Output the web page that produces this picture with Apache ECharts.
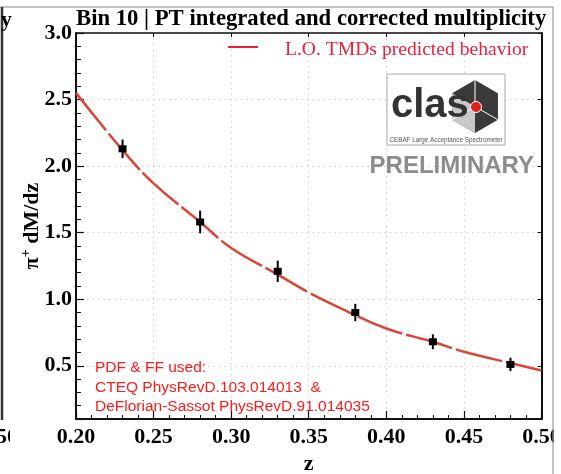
<!DOCTYPE html>
<html><head><meta charset="utf-8">
<script src="https://cdn.jsdelivr.net/npm/echarts@6/dist/echarts.min.js"></script>
<style>html,body{margin:0;padding:0;background:#fff}#c{width:561px;height:474px}</style>
</head><body><div id="c"></div>
<script>
const titleText = 'Bin 10 | PT integrated and corrected multiplicity';
const legendText = 'L.O. TMDs predicted behavior';
const noteLines = ['PDF & FF used:', 'CTEQ PhysRevD.103.014013  &', 'DeFlorian-Sassot PhysRevD.91.014035'];
const zPoints = [0.23, 0.28, 0.33, 0.38, 0.43, 0.48];
const multValues = [2.13, 1.58, 1.21, 0.90, 0.68, 0.51];
const multErrors = [0.07, 0.085, 0.08, 0.065, 0.056, 0.05];
const curveZ = [0.20, 0.23, 0.25, 0.28, 0.30, 0.33, 0.35, 0.37, 0.40, 0.43, 0.45, 0.48, 0.50];
const curveValues = [2.55, 2.12, 1.87, 1.58, 1.385, 1.185, 1.05, 0.935, 0.78, 0.68, 0.605, 0.52, 0.465];
const xTickLabels = ['0.20', '0.25', '0.30', '0.35', '0.40', '0.45', '0.50'];
const yTickLabels = ['0.5', '1.0', '1.5', '2.0', '2.5', '3.0'];

const SERIF = 'Liberation Serif';
const SANS = 'Liberation Sans';
const axisColor = '#111';

const chart = echarts.init(document.getElementById('c'), null, {renderer: 'canvas'});

const commonX = {
  type: 'value', min: 0.2, max: 0.5, interval: 0.05
};
const commonY = {
  type: 'value', min: 0.1, max: 3.0, minInterval: 0.5, maxInterval: 0.5, splitNumber: 6
};

const hexCx = 475, hexCy = 106.5, hexR = 26.5;
function hexPts() {
  const p = [];
  for (let i = 0; i < 6; i++) {
    const a = (-90 + 60 * i) * Math.PI / 180;
    p.push([hexCx + hexR * Math.cos(a), hexCy + hexR * Math.sin(a)]);
  }
  return p;
}
const hp = hexPts();

const option = {
  backgroundColor: '#fff',
  animation: false,
  title: {
    text: titleText, left: 76, top: 8, padding: 0,
    textStyle: {fontFamily: SERIF, fontWeight: 'bold', fontSize: 22.7, color: '#000'}
  },
  grid: {left: 76, right: 19.5, top: 33, bottom: 55, containLabel: false, outerBoundsMode: 'none'},
  xAxis: [
    Object.assign({}, commonX, {
      position: 'bottom',
      name: 'z', nameLocation: 'middle', nameGap: 30,
      nameTextStyle: {fontFamily: SERIF, fontWeight: 'bold', fontSize: 22, color: '#000'},
      axisLine: {show: true, lineStyle: {color: axisColor, width: 2}},
      axisTick: {show: true, inside: true, length: 8, lineStyle: {color: axisColor, width: 1.2}},
      minorTick: {show: true, splitNumber: 5, length: 4, lineStyle: {color: axisColor, width: 1}},
      axisLabel: {
        margin: 7, fontFamily: SERIF, fontWeight: 'bold', fontSize: 22, color: '#000',
        formatter: v => { const s = v.toFixed(2); return xTickLabels.includes(s) ? s : ''; }
      },
      splitLine: {show: true, lineStyle: {color: '#cfcfcf', width: 1, type: [1.5, 4]}}
    }),
    Object.assign({}, commonX, {
      position: 'top',
      axisLine: {show: true, lineStyle: {color: axisColor, width: 1.5}},
      axisTick: {show: true, inside: true, length: 4, lineStyle: {color: axisColor, width: 1}},
      axisLabel: {show: false},
      splitLine: {show: false}
    })
  ],
  yAxis: [
    Object.assign({}, commonY, {
      position: 'left',
      name: '{a|π}{s|+}{a| dM/dz}', nameLocation: 'middle', nameGap: 31, nameRotate: 90,
      nameMoveOverlap: false,
      nameTextStyle: {
        rich: {
          a: {fontFamily: SERIF, fontWeight: 'bold', fontSize: 22, color: '#000', lineHeight: 26},
          s: {fontFamily: SERIF, fontWeight: 'bold', fontSize: 14, color: '#000', lineHeight: 26, verticalAlign: 'top'}
        }
      },
      axisLine: {show: true, lineStyle: {color: axisColor, width: 2}},
      axisTick: {show: true, inside: true, length: 8, lineStyle: {color: axisColor, width: 1.2}},
      minorTick: {show: true, splitNumber: 5, length: 5, lineStyle: {color: axisColor, width: 1}},
      axisLabel: {
        margin: 4, fontFamily: SERIF, fontWeight: 'bold', fontSize: 22, color: '#000',
        formatter: v => {
          if (Math.abs(v * 2 - Math.round(v * 2)) > 1e-6) return '';
          const s = v.toFixed(1); return yTickLabels.includes(s) ? s : '';
        }
      },
      splitLine: {show: true, lineStyle: {color: '#cfcfcf', width: 1, type: [1.5, 4]}}
    }),
    Object.assign({}, commonY, {
      position: 'right',
      axisLine: {show: true, lineStyle: {color: axisColor, width: 2}},
      axisTick: {show: true, inside: true, length: 4, lineStyle: {color: axisColor, width: 1}},
      axisLabel: {show: false},
      splitLine: {show: false}
    })
  ],
  series: [
    {
      type: 'line', xAxisIndex: 0, yAxisIndex: 0,
      data: curveZ.map((z, i) => [z, curveValues[i]]),
      smooth: 0.4, showSymbol: false, z: 2,
      lineStyle: {color: '#dc4535', width: 2.5, type: [48, 4]}
    },
    {
      type: 'custom', xAxisIndex: 0, yAxisIndex: 0, z: 3,
      data: zPoints.map((z, i) => [z, multValues[i], multErrors[i]]),
      renderItem: (params, api) => {
        const x = api.value(0), y = api.value(1), e = api.value(2);
        const c = api.coord([x, y]);
        const t = api.coord([x, y + e]);
        const b = api.coord([x, y - e]);
        return {
          type: 'group', children: [
            {type: 'line', shape: {x1: c[0], y1: t[1], x2: c[0], y2: b[1]}, style: {stroke: '#000', lineWidth: 2}},
            {type: 'rect', shape: {x: c[0] - 4, y: c[1] - 3.5, width: 8, height: 7}, style: {fill: '#000'}}
          ]
        };
      }
    }
  ],
  graphic: [
    // legend
    {type: 'line', shape: {x1: 228, y1: 47, x2: 258, y2: 47}, style: {stroke: '#e8203a', lineWidth: 2}, z: 10},
    {type: 'text', x: 285, y: 50, style: {text: legendText, fontFamily: SERIF, fontSize: 19.6, fill: '#e8203a', verticalAlign: 'middle', align: 'left'}, z: 10},
    // logo box
    {type: 'rect', shape: {x: 387, y: 74, width: 118, height: 71}, style: {fill: '#fff', stroke: '#aaa', lineWidth: 1}, z: 10},
    {type: 'polygon', shape: {points: hp}, style: {fill: '#3a3a3a'}, z: 11},
    {type: 'polygon', shape: {points: [[hexCx, hexCy], hp[3], hp[4], hp[5]]}, style: {fill: '#c9c9c9'}, z: 11},
    {type: 'line', shape: {x1: hexCx, y1: hexCy, x2: hp[0][0], y2: hp[0][1]}, style: {stroke: '#fff', lineWidth: 1}, z: 12},
    {type: 'line', shape: {x1: hexCx, y1: hexCy, x2: hp[2][0], y2: hp[2][1]}, style: {stroke: '#fff', lineWidth: 1}, z: 12},
    {type: 'line', shape: {x1: hexCx, y1: hexCy, x2: hp[4][0], y2: hp[4][1]}, style: {stroke: '#fff', lineWidth: 1}, z: 12},
    {type: 'text', x: 391, y: 126, style: {text: 'clas', fontFamily: SANS, fontWeight: 'bold', fontSize: 40, fill: '#333', verticalAlign: 'bottom', align: 'left'}, z: 13},
    {type: 'circle', shape: {cx: 476, cy: 107, r: 5.5}, style: {fill: '#e02020', stroke: '#fff', lineWidth: 1}, z: 14},
    {type: 'text', x: 446, y: 140, style: {text: 'CEBAF Large Acceptance Spectrometer', fontFamily: SANS, fontSize: 6.3, fill: '#555', verticalAlign: 'middle', align: 'center'}, z: 13},
    {type: 'text', x: 534, y: 166, style: {text: 'PRELIMINARY', fontFamily: SANS, fontWeight: 'bold', fontSize: 24, fill: '#8c8c8c', verticalAlign: 'middle', align: 'right'}, z: 10},
    // note
    {type: 'text', x: 95, y: 358, style: {text: noteLines.join('\n'), fontFamily: SANS, fontSize: 15.5, lineHeight: 19.5, fill: '#ff1a1a', verticalAlign: 'top', align: 'left'}, z: 10},
    // neighbouring panel remnants and frame
    {type: 'line', shape: {x1: 0, y1: 7, x2: 553, y2: 7}, style: {stroke: '#888', lineWidth: 1.2}, z: 20},
    {type: 'line', shape: {x1: 2, y1: 7, x2: 2, y2: 420}, style: {stroke: '#333', lineWidth: 2.5}, z: 20},
    {type: 'text', x: 1, y: 20, style: {text: 'y', fontFamily: SERIF, fontWeight: 'bold', fontSize: 21.5, fill: '#000', verticalAlign: 'middle', align: 'left'}, z: 20},
    {type: 'text', x: -4, y: 437, style: {text: '50', fontFamily: SERIF, fontWeight: 'bold', fontSize: 22, fill: '#000', verticalAlign: 'middle', align: 'left'}, z: 20},
    {type: 'rect', shape: {x: 10, y: 424, width: 12, height: 28}, style: {fill: '#fff'}, z: 21},
    {type: 'rect', shape: {x: 554, y: 0, width: 10, height: 474}, style: {fill: '#fff'}, z: 21},
    {type: 'line', shape: {x1: 553, y1: 7, x2: 553, y2: 474}, style: {stroke: '#999', lineWidth: 1.2}, z: 22}
  ]
};
chart.setOption(option);
</script>
</body></html>
